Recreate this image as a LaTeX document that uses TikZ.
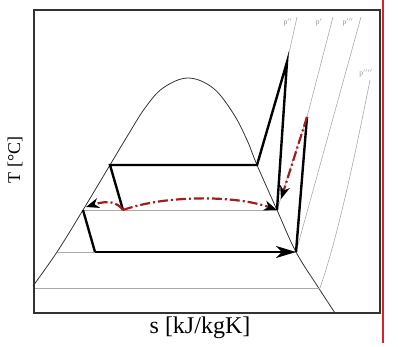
\documentclass[tikz,border=0pt]{standalone}
\usepackage{fontspec}
\setmainfont{Liberation Serif}
\usetikzlibrary{arrows.meta}
\definecolor{cycred}{RGB}{165,28,28}
\definecolor{framegray}{RGB}{50,50,50}
\definecolor{isogray}{RGB}{170,170,170}
\definecolor{edgered}{RGB}{225,30,40}
\tikzset{
  cyc/.style={line width=2.4pt, black, line join=miter},
  isob/.style={line width=0.6pt, draw=isogray},
  dome/.style={line width=0.8pt, draw=black!80},
  rdash/.style={line width=2.2pt, cycred, dash pattern=on 10pt off 3pt on 2pt off 3pt},
  bigtip/.style={-{Stealth[length=20pt,width=12pt,inset=6pt]}},
  redtip/.style={-{Stealth[length=13pt,width=10pt,inset=4pt,color=black]}},
  plabel/.style={font=\fontsize{7.5}{8}\selectfont, text=black!45, inner sep=0pt},
}
\begin{document}
\begin{tikzpicture}[x=1pt,y=-1pt]
\useasboundingbox (0,0) rectangle (398,346);
% points
\coordinate (A) at (110,165);
\coordinate (B) at (257,165);
\coordinate (C) at (287,62);
\coordinate (D) at (277,210);
\coordinate (E) at (307,117);
\coordinate (F) at (123,210);
\coordinate (H) at (83,210);
\coordinate (I) at (95,252);
\coordinate (J) at (296,252);
\coordinate (K) at (320,288);
\coordinate (L2) at (57,252);
\coordinate (L3) at (34,288);
\coordinate (R) at (281,199);
\coordinate (G) at (86,207);
\coordinate (P1) at (297,17);
\coordinate (P2) at (333,17);
\coordinate (P3) at (361,17);
\coordinate (P4) at (370,80);
% dome
\draw[dome] plot[smooth, tension=0.6] coordinates {(33,286) (57,252) (83,210) (110,165) (128,135) (145,108) (163,88) (188,78) (213,88) (233,113) (247,140) (257,165) (277,210) (296,252) (318,287) (335,313)};
% thin lines
\draw[isob] (H) -- (D);
\draw[isob] (L2) -- (J);
\draw[isob] (L3) -- (K);
\draw[isob] (P1) -- (C);
\draw[isob] (P2) -- (E) -- (D);
\draw[isob] (P3) -- (J);
\draw[isob] (P4) .. controls (358,140) and (340,230) .. (K);
% labels
\node[plabel] (l1) at (288,22) {p$''$};
\node[plabel] (l2) at (319,22) {p$'$};
\node[plabel] (l3) at (348,22) {p$'''$};
\node[plabel] (l4) at (366,73) {p$''''$};
% cycle
\draw[cyc] (H) -- (I);
\draw[cyc, bigtip] (I) -- (J);
\draw[cyc] (J) -- (E);
\draw[cyc] (F) -- (A) -- (B) -- (C) -- (D);
% red dash-dot
\draw[rdash, redtip] (F) .. controls (117,202) and (108,200) .. (G);
\draw[rdash, redtip] (F) .. controls (165,195) and (235,195) .. (D);
\draw[rdash, redtip] (E) -- (R);
% frame
\draw[line width=2pt, framegray] (34,9.5) rectangle (380,313);
\draw[line width=2pt, edgered] (382.5,0) -- (382.5,343);
% axis labels
\node[rotate=90, font=\fontsize{18}{20}\selectfont] (ty) at (15,160) {T [°C]};
\node[font=\fontsize{24}{26}\selectfont] (sx) at (200,328) {s [kJ/kgK]};
\end{tikzpicture}
\end{document}
